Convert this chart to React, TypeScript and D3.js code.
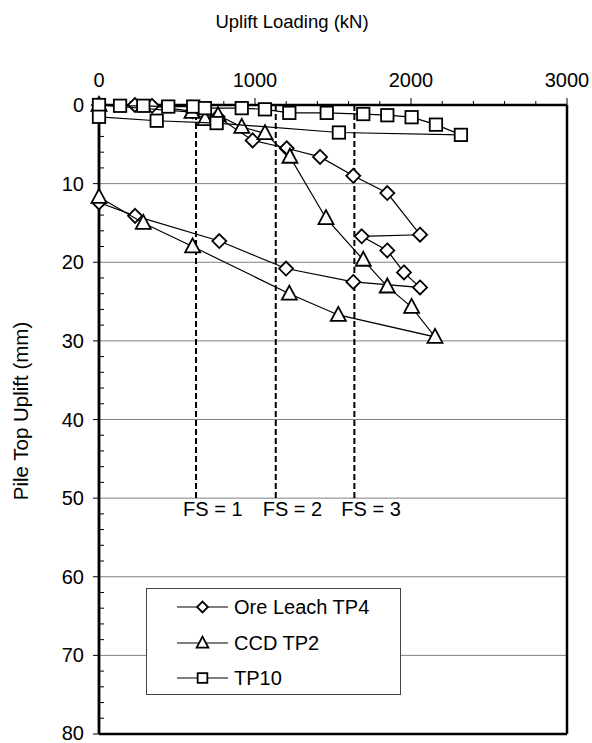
import React from "react";
import * as d3 from "d3";

const oreLoad = [0, 230, 340, 600, 760, 985, 1203, 1417, 1630, 1848, 2058, 1684, 1848, 1955, 2058, 1630, 1199, 771, 231, 0];
const oreUplift = [0, 0, 0.1, 0.8, 1.5, 4.5, 5.5, 6.6, 9.0, 11.2, 16.5, 16.7, 18.5, 21.3, 23.2, 22.5, 20.8, 17.3, 14.1, 12.4];

const ccdLoad = [0, 596, 680, 763, 915, 1064, 1224, 1455, 1694, 1848, 2004, 2154, 1534, 1220, 600, 284, 0];
const ccdUplift = [0, 0.9, 1.8, 1.3, 2.8, 3.6, 6.6, 14.4, 19.7, 23.1, 25.7, 29.5, 26.7, 24.0, 18.0, 15.0, 11.7];

const tp10Load = [0, 135, 284, 444, 604, 679, 915, 1064, 1220, 1460, 1694, 1848, 2004, 2160, 2320, 1538, 754, 370, 0];
const tp10Uplift = [0, 0.1, 0.1, 0.2, 0.2, 0.4, 0.4, 0.55, 1.0, 1.0, 1.15, 1.3, 1.55, 2.5, 3.8, 3.5, 2.3, 2.0, 1.5];

const fsLoads = [622, 1133, 1637];
const fsLabels = ["FS = 1", "FS = 2", "FS = 3"];

const xTicks = [0, 1000, 2000, 3000];
const yTicks = [0, 10, 20, 30, 40, 50, 60, 70, 80];
const seriesNames = ["Ore Leach TP4", "CCD TP2", "TP10"];

const FONT = "'Liberation Sans', Arial, sans-serif";

type Shape = "diamond" | "triangle" | "square";

function Marker({ shape, x, y, s }: { shape: Shape; x: number; y: number; s: number }) {
  if (shape === "diamond") {
    const h = 7 * s;
    return <path d={`M${x},${y - h}L${x + h},${y}L${x},${y + h}L${x - h},${y}Z`} fill="#fff" stroke="#000" strokeWidth={1.8} />;
  }
  if (shape === "triangle") {
    const w = 7.5 * s;
    const h = 14 * s;
    return <path d={`M${x},${y - h * 0.58}L${x + w},${y + h * 0.42}L${x - w},${y + h * 0.42}Z`} fill="#fff" stroke="#000" strokeWidth={1.8} />;
  }
  const a = 6.2 * s;
  return <rect x={x - a} y={y - a} width={2 * a} height={2 * a} fill="#fff" stroke="#000" strokeWidth={1.8} />;
}

export default function App() {
  const W = 592, H = 743;
  const x = d3.scaleLinear().domain([0, 3000]).range([99, 567]);
  const y = d3.scaleLinear().domain([0, 80]).range([105, 734]);

  const series: { load: number[]; up: number[]; shape: Shape }[] = [
    { load: oreLoad, up: oreUplift, shape: "diamond" },
    { load: ccdLoad, up: ccdUplift, shape: "triangle" },
    { load: tp10Load, up: tp10Uplift, shape: "square" },
  ];

  const line = d3.line<[number, number]>().x((d) => x(d[0])).y((d) => y(d[1]));

  const minorX = d3.range(0, 3001, 200);
  const minorY = d3.range(0, 81, 2);

  return (
    <svg width={W} height={H} style={{ position: "absolute", left: 0, top: 0, background: "#fff" }} fontFamily={FONT}>
      <rect x={0} y={0} width={W} height={H} fill="#fff" />
      {/* gridlines */}
      {yTicks.filter((t) => t > 0 && t < 80).map((t) => (
        <line key={t} x1={x(0)} x2={x(3000)} y1={y(t)} y2={y(t)} stroke="#808080" strokeWidth={1} />
      ))}
      {/* frame */}
      <line x1={x(0)} x2={x(3000)} y1={y(0)} y2={y(0)} stroke="#000" strokeWidth={2.5} />
      <line x1={x(0)} x2={x(3000)} y1={y(80)} y2={y(80)} stroke="#000" strokeWidth={2.5} />
      <line x1={x(0)} x2={x(0)} y1={y(0)} y2={y(80)} stroke="#000" strokeWidth={2.8} />
      <line x1={x(3000)} x2={x(3000)} y1={y(0)} y2={y(80)} stroke="#000" strokeWidth={2.5} />
      {/* top axis ticks */}
      {minorX.map((t) => (
        <line key={t} x1={x(t)} x2={x(t)} y1={y(0)} y2={y(0) - (t % 1000 === 0 ? 7 : 4)} stroke="#000" strokeWidth={1} />
      ))}
      {xTicks.map((t) => (
        <text key={t} x={x(t)} y={87} fontSize={20} textAnchor="middle" fill="#000">{t}</text>
      ))}
      {/* left axis ticks */}
      {minorY.map((t) =>
        t % 10 === 0 ? (
          <line key={t} x1={x(0) - 6} x2={x(0)} y1={y(t)} y2={y(t)} stroke="#000" strokeWidth={1} />
        ) : (
          <line key={t} x1={x(0)} x2={x(0) + 5} y1={y(t)} y2={y(t)} stroke="#000" strokeWidth={1} />
        )
      )}
      {yTicks.map((t) => (
        <text key={t} x={84} y={Math.min(y(t) + 7, 740)} fontSize={20} textAnchor="end" fill="#000">{t}</text>
      ))}
      {/* FS dashed lines */}
      {fsLoads.map((f, i) => (
        <g key={i}>
          <line x1={x(f)} x2={x(f)} y1={y(0)} y2={y(50)} stroke="#000" strokeWidth={2} strokeDasharray="6,3" />
          <text x={x(f) - 13} y={516} fontSize={20} fill="#000">{fsLabels[i]}</text>
        </g>
      ))}
      {/* series */}
      {series.map((s, i) => {
        const pts = s.load.map((l, j) => [l, s.up[j]] as [number, number]);
        return (
          <g key={i}>
            <path d={line(pts) || ""} fill="none" stroke="#000" strokeWidth={1.2} />
            {pts.map((p, j) => (
              <Marker key={j} shape={s.shape} x={x(p[0])} y={y(p[1])} s={1} />
            ))}
          </g>
        );
      })}
      {/* axis titles */}
      <text x={292} y={28} fontSize={18.5} textAnchor="middle" fill="#000">Uplift Loading  (kN)</text>
      <text transform={`translate(28,411) rotate(-90)`} fontSize={20.5} textAnchor="middle" fill="#000">Pile Top Uplift (mm)</text>
      {/* legend */}
      <rect x={146.5} y={588.5} width={254} height={106} fill="#fff" stroke="#444" strokeWidth={1} />
      {series.map((s, i) => {
        const cy = [607, 643, 678][i];
        return (
          <g key={i}>
            <line x1={177} x2={228} y1={cy} y2={cy} stroke="#000" strokeWidth={1.2} />
            <Marker shape={s.shape} x={202.5} y={cy} s={0.78} />
            <text x={234} y={cy + 7} fontSize={20} fill="#000">{seriesNames[i]}</text>
          </g>
        );
      })}
    </svg>
  );
}
